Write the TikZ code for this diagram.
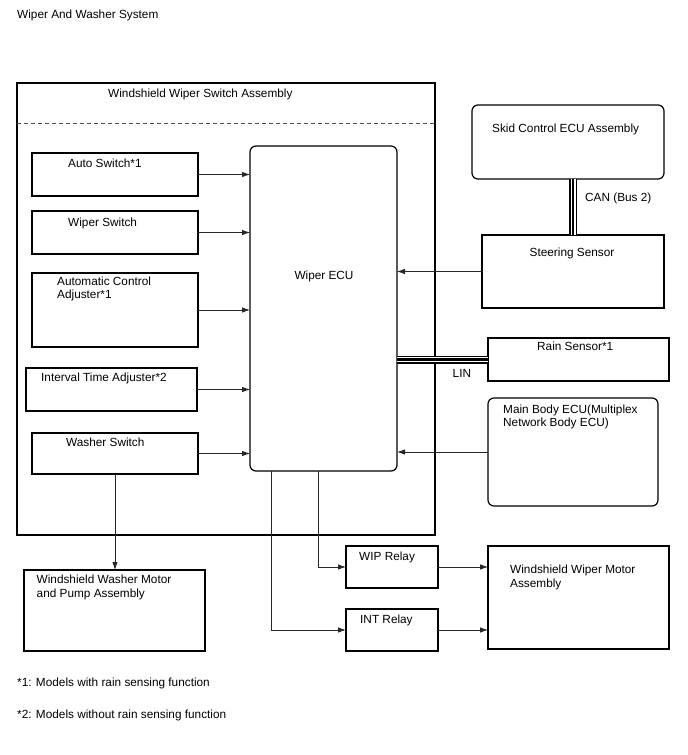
\documentclass[tikz,border=0pt]{standalone}
\usepackage{fontspec}
\setmainfont{Liberation Sans}
\usetikzlibrary{arrows.meta}
\begin{document}
\begin{tikzpicture}[x=1pt,y=-1pt,
  box/.style={draw=black,line width=1.2pt,inner sep=0pt,outer sep=0pt,anchor=north west},
  rbox/.style={box,rounded corners=6pt},
  txt/.style={inner sep=0pt,anchor=base west,align=left,font=\fontsize{11.8}{13.5}\selectfont},
  arr/.style={draw=black!85,line width=0.8pt,-{Latex[length=8pt,width=5.5pt]}},
  bus/.style={line width=8pt,draw=black,postaction={draw=white,line width=5pt},postaction={draw=black,line width=2.6pt}}]
\useasboundingbox (0,0) rectangle (688,755);
\fill[white] (0,0) rectangle (688,755);

\node[txt] (title) at (17,18) {Wiper And Washer System};

% outer assembly
\node[box,minimum width=418pt,minimum height=452pt] (outer) at (17,83) {};
\node[txt] (outerlbl) at (108,97) {Windshield Wiper Switch Assembly};
\draw[dash pattern=on 4pt off 3pt,line width=0.8pt,black!70] ([yshift=-40pt]outer.north west) -- ([yshift=-40pt]outer.north east);

% left switches
\node[box,minimum width=166pt,minimum height=43pt] (autosw) at (32,153) {};
\node[txt] (autoswt) at (68,167) {Auto Switch*1};
\node[box,minimum width=166pt,minimum height=43pt] (wipsw) at (32,211) {};
\node[txt] (wipswt) at (68,226) {Wiper Switch};
\node[box,minimum width=166pt,minimum height=74pt] (acadj) at (32,273) {};
\node[txt] (acadjt) at (57,298.5) {Automatic Control\\Adjuster*1};
\node[box,minimum width=171pt,minimum height=43pt] (itadj) at (26,368) {};
\node[txt] (itadjt) at (41,381.5) {Interval Time Adjuster*2};
\node[box,minimum width=166pt,minimum height=41pt] (washsw) at (32,433) {};
\node[txt] (washswt) at (66,446) {Washer Switch};

% ECU
\node[rbox,minimum width=147pt,minimum height=325pt] (ecu) at (250,146) {};
\node[txt,anchor=base] (ecut) at (324,279) {Wiper ECU};

% right side
\node[rbox,minimum width=192pt,minimum height=74pt] (skid) at (472,105) {};
\node[txt] (skidt) at (492,132) {Skid Control ECU Assembly};
\node[box,minimum width=182pt,minimum height=73pt] (steer) at (482,235) {};
\node[txt] (steert) at (529.5,256) {Steering Sensor};
\node[box,minimum width=181pt,minimum height=43pt] (rain) at (488,338) {};
\node[txt] (raint) at (537,350.5) {Rain Sensor*1};
\node[rbox,minimum width=170pt,minimum height=108pt] (mbody) at (488,398) {};
\node[txt] (mbodyt) at (503,426.5) {Main Body ECU(Multiplex\\Network Body ECU)};

% bottom
\node[box,minimum width=181pt,minimum height=81pt] (wmotor) at (24,570) {};
\node[txt] (wmotort) at (36.5,597) {Windshield Washer Motor\\and Pump Assembly};
\node[box,minimum width=92pt,minimum height=42pt] (wip) at (346,546) {};
\node[txt] (wipt) at (359,560) {WIP Relay};
\node[box,minimum width=92pt,minimum height=42pt] (intrelay) at (346,609) {};
\node[txt] (intt) at (360,623.5) {INT Relay};
\node[box,minimum width=181pt,minimum height=103pt] (wpm) at (488,546) {};
\node[txt] (wpmt) at (510,587) {Windshield Wiper Motor\\Assembly};

% labels
\node[txt] (canlbl) at (585,201) {CAN (Bus 2)};
\node[txt] (linlbl) at (452.5,377.5) {LIN};
\node[txt] (fn1) at (17,686) {*1: Models with rain sensing function};
\node[txt] (fn2) at (17,718) {*2: Models without rain sensing function};

% connectors
\draw[arr] (autosw.east) -- (autosw.east -| ecu.west);
\draw[arr] (wipsw.east) -- (wipsw.east -| ecu.west);
\draw[arr] (acadj.east) -- (acadj.east -| ecu.west);
\draw[arr] (itadj.east) -- (itadj.east -| ecu.west);
\draw[arr] (washsw.east) -- (washsw.east -| ecu.west);
\draw[arr] (steer.west) -- (steer.west -| ecu.east);
\draw[arr] (mbody.west) -- (mbody.west -| ecu.east);
\draw[bus] (ecu.east |- rain.west) -- (rain.west);
\draw[bus] (steer.north) -- (steer.north |- skid.south);
\draw[arr] (washsw.south) -- (washsw.south |- wmotor.north);
\draw[arr] ([xshift=68pt]ecu.south west) |- (wip.west);
\draw[arr] ([xshift=21pt]ecu.south west) |- (intrelay.west);
\draw[arr] (wip.east) -- (wip.east -| wpm.west);
\draw[arr] (intrelay.east) -- (intrelay.east -| wpm.west);
\end{tikzpicture}
\end{document}
